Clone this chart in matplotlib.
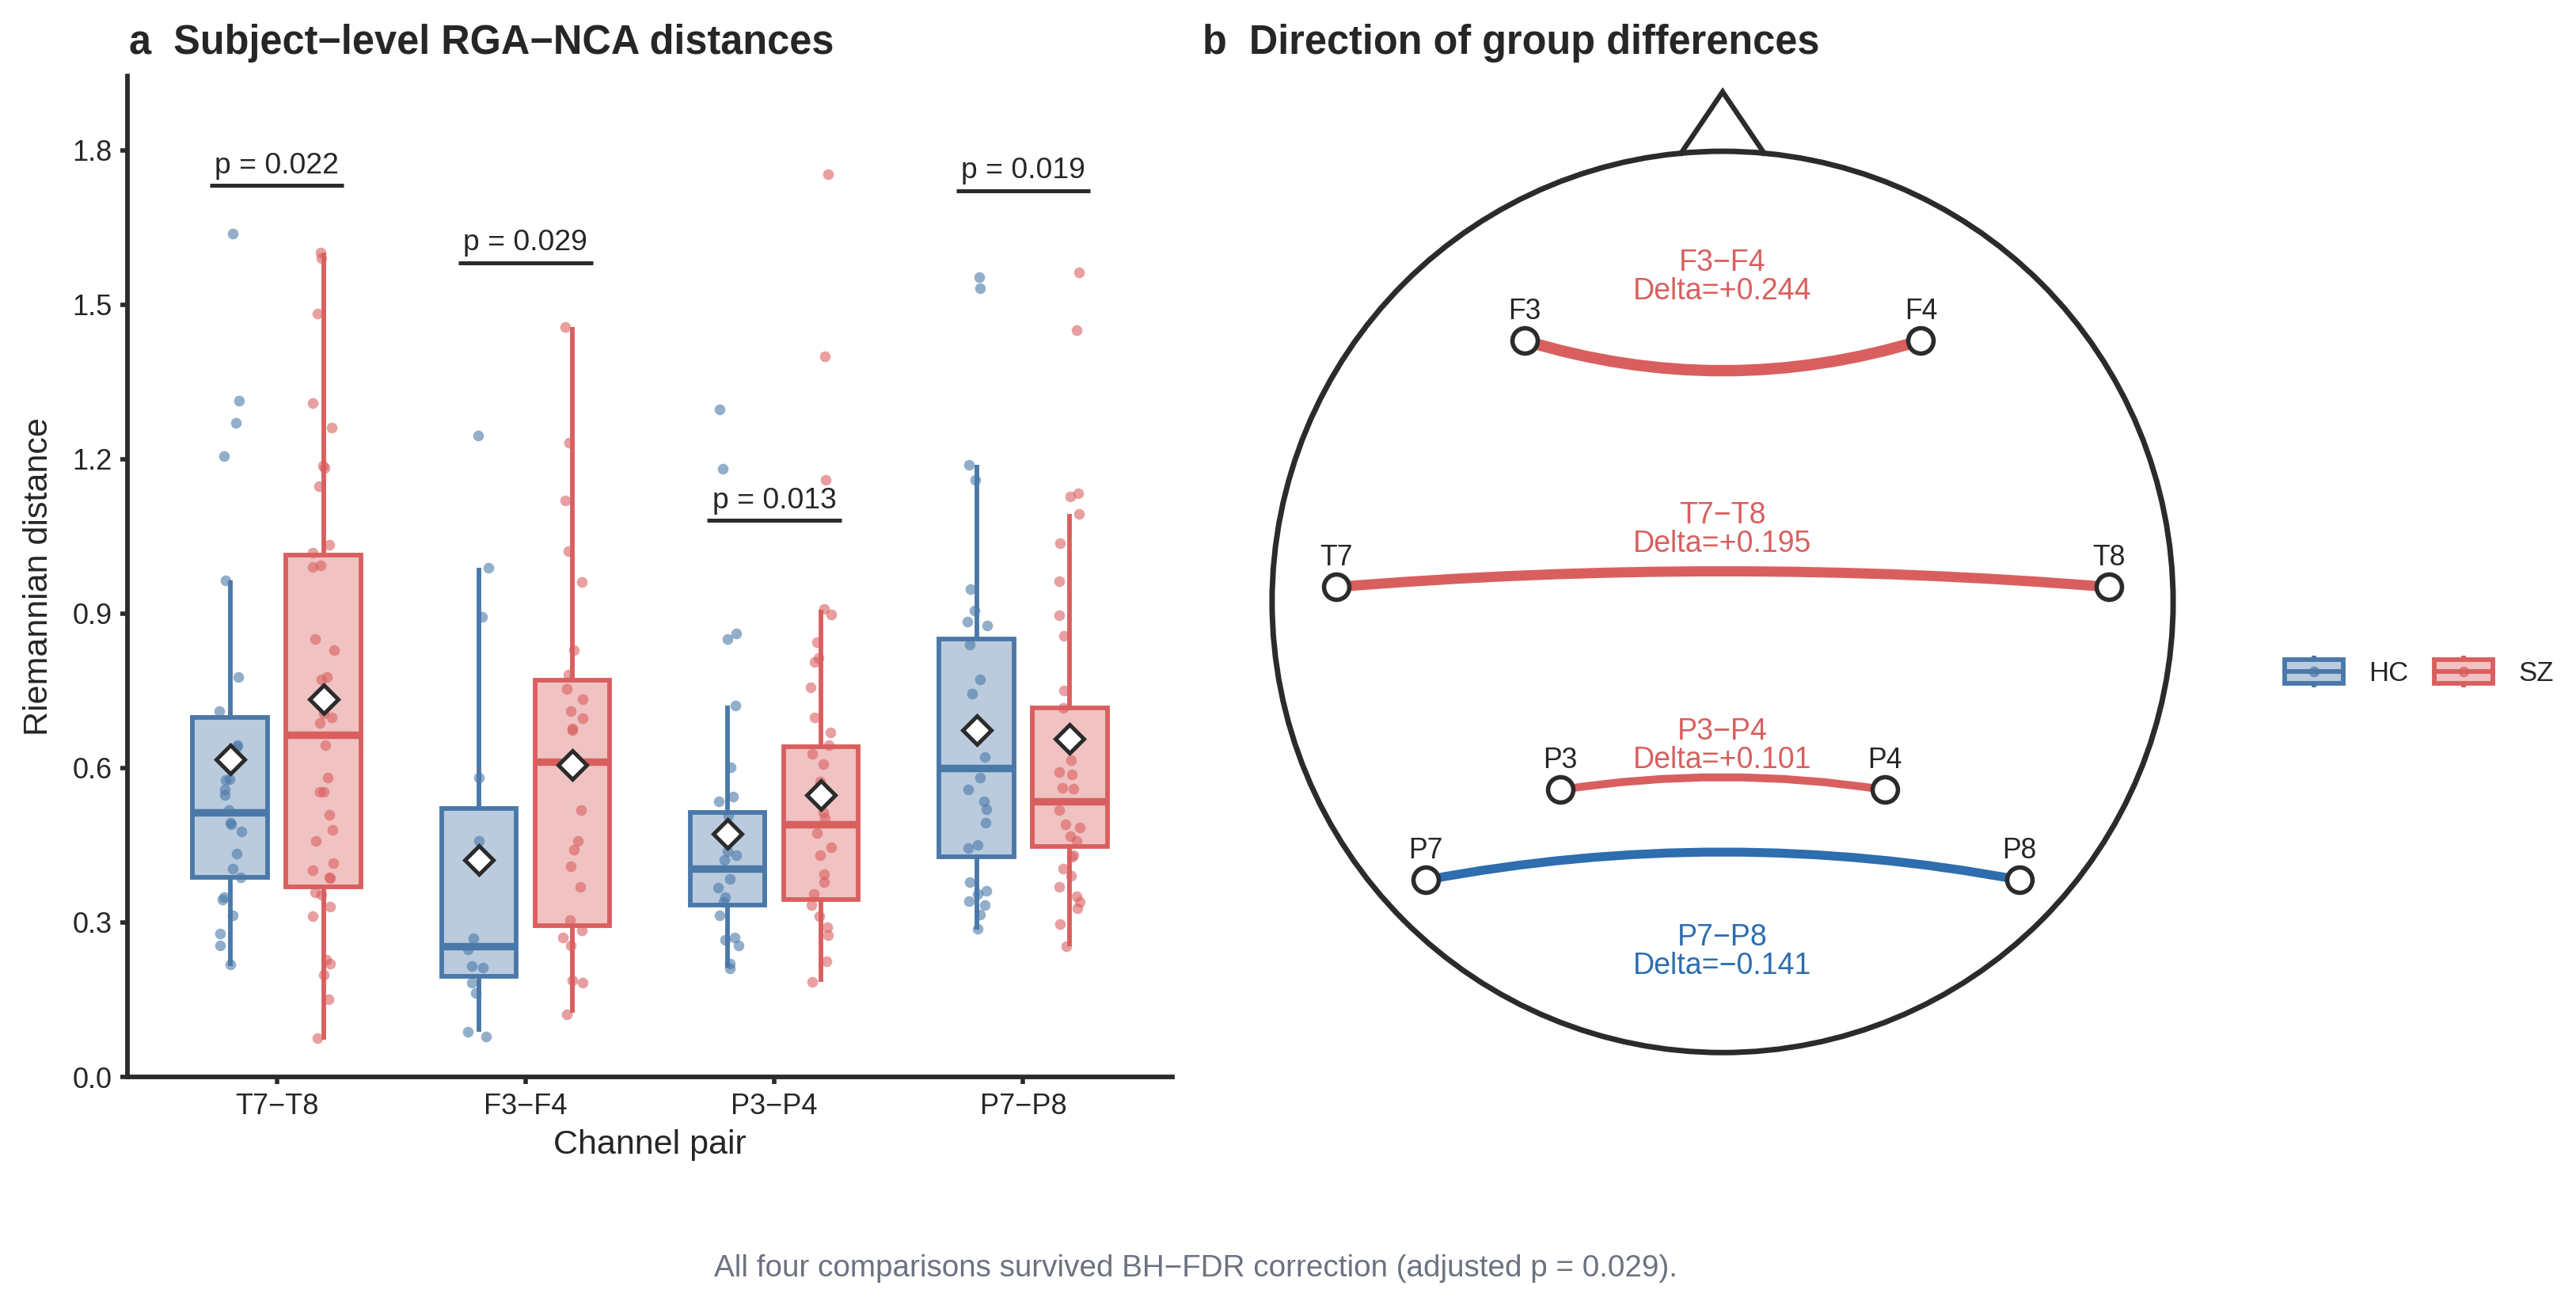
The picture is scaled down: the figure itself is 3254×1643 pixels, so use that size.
import numpy as np
import matplotlib
matplotlib.use("Agg")
import matplotlib.pyplot as plt
from matplotlib.patches import Circle, PathPatch, Rectangle, Patch
from matplotlib.path import Path
from matplotlib.lines import Line2D
from matplotlib.legend_handler import HandlerBase

plt.rcParams['font.family'] = ['Liberation Sans', 'DejaVu Sans']

# ---- data ----
pairs = ['T7−T8', 'F3−F4', 'P3−P4', 'P7−P8']
groups = ['HC', 'SZ']

hc_points = [
    [1.638, 1.314, 1.270, 1.206, 0.965, 0.777, 0.711, 0.645, 0.642, 0.578, 0.577, 0.558,
     0.548, 0.518, 0.494, 0.490, 0.477, 0.433, 0.404, 0.387, 0.349, 0.345, 0.314, 0.279,
     0.255, 0.218],
    [1.246, 0.989, 0.893, 0.582, 0.458, 0.269, 0.247, 0.216, 0.213, 0.183, 0.163, 0.088, 0.079],
    [1.296, 1.181, 0.861, 0.851, 0.722, 0.601, 0.544, 0.535, 0.507, 0.438, 0.430, 0.421,
     0.384, 0.367, 0.349, 0.340, 0.313, 0.270, 0.266, 0.255, 0.220, 0.210],
    [1.553, 1.532, 1.189, 1.160, 0.948, 0.906, 0.884, 0.876, 0.840, 0.772, 0.745, 0.621,
     0.582, 0.558, 0.535, 0.520, 0.494, 0.450, 0.445, 0.378, 0.361, 0.356, 0.341, 0.334,
     0.316, 0.288],
]
sz_points = [
    [1.601, 1.590, 1.482, 1.309, 1.261, 1.188, 1.182, 1.148, 1.033, 1.018, 0.993, 0.991,
     0.851, 0.829, 0.777, 0.772, 0.706, 0.699, 0.688, 0.645, 0.581, 0.553, 0.554, 0.509,
     0.480, 0.459, 0.415, 0.402, 0.387, 0.386, 0.358, 0.353, 0.330, 0.312, 0.227, 0.220,
     0.199, 0.150, 0.075],
    [1.457, 1.232, 1.120, 1.021, 0.961, 0.829, 0.781, 0.753, 0.734, 0.710, 0.697, 0.676,
     0.674, 0.518, 0.458, 0.441, 0.409, 0.369, 0.305, 0.284, 0.271, 0.256, 0.188, 0.183, 0.122],
    [1.753, 1.400, 1.160, 0.909, 0.898, 0.845, 0.814, 0.806, 0.757, 0.698, 0.669, 0.644,
     0.628, 0.608, 0.573, 0.514, 0.503, 0.474, 0.446, 0.430, 0.394, 0.378, 0.356, 0.334,
     0.312, 0.291, 0.275, 0.224, 0.185],
    [1.563, 1.450, 1.134, 1.127, 1.093, 1.036, 0.963, 0.897, 0.857, 0.750, 0.717, 0.615,
     0.592, 0.588, 0.562, 0.560, 0.519, 0.490, 0.485, 0.468, 0.458, 0.431, 0.427, 0.404,
     0.390, 0.369, 0.350, 0.340, 0.327, 0.297, 0.253],
]

# box summaries
hc_q1 = [0.388, 0.196, 0.334, 0.428]
hc_med = [0.514, 0.253, 0.404, 0.600]
hc_q3 = [0.698, 0.522, 0.514, 0.851]
hc_wlo = [0.216, 0.088, 0.213, 0.286]
hc_whi = [0.965, 0.989, 0.722, 1.189]
hc_mean = [0.617, 0.421, 0.472, 0.673]

sz_q1 = [0.369, 0.293, 0.345, 0.447]
sz_med = [0.665, 0.612, 0.490, 0.535]
sz_q3 = [1.013, 0.770, 0.642, 0.717]
sz_wlo = [0.073, 0.124, 0.185, 0.253]
sz_whi = [1.601, 1.457, 0.908, 1.093]
sz_mean = [0.734, 0.606, 0.548, 0.656]

p_labels = ['p = 0.022', 'p = 0.029', 'p = 0.013', 'p = 0.019']
p_heights = [1.731, 1.581, 1.081, 1.721]

# panel b: electrode layout (head radius = 1) and group differences
electrodes = ['F3', 'F4', 'T7', 'T8', 'P3', 'P4', 'P7', 'P8']
elec_x = [-0.44, 0.44, -0.858, 0.858, -0.36, 0.36, -0.659, 0.659]
elec_y = [0.58, 0.58, 0.033, 0.033, -0.417, -0.417, -0.617, -0.617]

edge_from = ['F3', 'T7', 'P3', 'P7']
edge_to = ['F4', 'T8', 'P4', 'P8']
edge_delta = [0.244, 0.195, 0.101, -0.141]
edge_bend = [-0.067, 0.035, 0.028, 0.062]
edge_label_y = [0.72, 0.16, -0.32, -0.777]

caption = "All four comparisons survived BH−FDR correction (adjusted p = 0.029)."

# ---- styles ----
HC_COL = '#4A78A8'
SZ_COL = '#D95F5F'
HC_FILL = '#BACBDE'
SZ_FILL = '#F0C2C2'
POS_COL = '#D95F5F'
NEG_COL = '#2E6DAE'
INK = '#2B2B2B'
TXT = '#262626'
W, H = 3255, 1643

fig = plt.figure(figsize=(W / 200, H / 200), dpi=200)

# ---- panel a ----
ax = fig.add_axes([161 / W, 1 - 1360 / H, 1320 / W, 1264 / H])
x = np.arange(1, len(pairs) + 1)
dodge = 0.1875
rng = np.random.default_rng(7)

for vals, q1, med, q3, wlo, whi, mn, off, ec, fc in [
        (hc_points, hc_q1, hc_med, hc_q3, hc_wlo, hc_whi, hc_mean, -dodge, HC_COL, HC_FILL),
        (sz_points, sz_q1, sz_med, sz_q3, sz_wlo, sz_whi, sz_mean, dodge, SZ_COL, SZ_FILL)]:
    stats = []
    for i in range(len(pairs)):
        stats.append(dict(q1=q1[i], med=med[i], q3=q3[i], whislo=wlo[i],
                          whishi=whi[i], mean=mn[i], fliers=[]))
    ax.bxp(stats, positions=x + off, widths=0.3, patch_artist=True,
           showmeans=True, showfliers=False, showcaps=False,
           boxprops=dict(facecolor=fc, edgecolor=ec, linewidth=2.1),
           whiskerprops=dict(color=ec, linewidth=2.1, solid_capstyle='butt'),
           medianprops=dict(color=ec, linewidth=3.4, solid_capstyle='butt'),
           meanprops=dict(marker='D', markersize=9.2, markerfacecolor='white',
                          markeredgecolor=INK, markeredgewidth=1.8, zorder=6))
    for i, v in enumerate(vals):
        jx = x[i] + off + rng.uniform(-0.045, 0.045, len(v))
        ax.scatter(jx, v, s=24, color=ec, alpha=0.6, linewidths=0, zorder=4)

for i, (lab, hy) in enumerate(zip(p_labels, p_heights)):
    ax.plot([x[i] - 0.27, x[i] + 0.27], [hy, hy], color=INK, lw=1.8,
            solid_capstyle='butt', zorder=5)
    ax.text(x[i], hy + 0.024, lab, ha='center', va='baseline', fontsize=13.4, color=TXT)

ax.set_xlim(0.4, 4.6)
ax.set_ylim(0, 1.944)
ax.set_xticks(x)
ax.set_xticklabels(pairs)
ax.set_yticks(np.arange(0, 1.81, 0.3))
ax.set_yticklabels([f'{t:.1f}' for t in np.arange(0, 1.81, 0.3)])
ax.spines['top'].set_visible(False)
ax.spines['right'].set_visible(False)
for s in ['left', 'bottom']:
    ax.spines[s].set_linewidth(2.1)
    ax.spines[s].set_color(INK)
ax.tick_params(length=3.1, width=2.0, color=INK, labelsize=13, labelcolor=TXT, pad=4)
ax.set_xlabel('Channel pair', fontsize=15.5, color=TXT, labelpad=4)
ax.set_ylabel('Riemannian distance', fontsize=15.5, color=TXT, labelpad=8)

# ---- panel b ----
bx = fig.add_axes([1550 / W, 1 - 1360 / H, 1252 / W, 1264 / H])
bx.set_xlim(-1.1, 1.1)
bx.set_ylim(-1.054, 1.167)
bx.axis('off')
bx.add_patch(Circle((0, 0), 1, fill=False, lw=2.5, ec=INK, clip_on=False))
bx.plot([-0.092, 0, 0.092], [0.996, 1.132, 0.996], color=INK, lw=2.3,
        solid_joinstyle='miter', clip_on=False)

pos = {n: (ex, ey) for n, ex, ey in zip(electrodes, elec_x, elec_y)}
for a, b, d, bend, ly in zip(edge_from, edge_to, edge_delta, edge_bend, edge_label_y):
    (x1, y1), (x2, y2) = pos[a], pos[b]
    ctrl = ((x1 + x2) / 2, (y1 + y2) / 2 + 2 * bend)
    col = POS_COL if d > 0 else NEG_COL
    path = Path([(x1, y1), ctrl, (x2, y2)], [Path.MOVETO, Path.CURVE3, Path.CURVE3])
    bx.add_patch(PathPatch(path, fill=False, ec=col, lw=2.5 + 11 * abs(d),
                           capstyle='butt', zorder=2))
    sign = '+' if d > 0 else '−'
    bx.text(0, ly, f'{a}−{b}\nDelta={sign}{abs(d):.3f}', ha='center', va='center',
            fontsize=13.5, color=col, linespacing=1.0, zorder=3)

bx.plot(elec_x, elec_y, 'o', ms=11.5, mfc='white', mec=INK, mew=2.0, ls='none', zorder=4)
for n, ex, ey in zip(electrodes, elec_x, elec_y):
    bx.text(ex, ey + 0.065, n, ha='center', va='center', fontsize=12.8, color=TXT, zorder=5)


# ---- legend with boxplot keys ----
class BoxKey(HandlerBase):
    def create_artists(self, legend, orig_handle, xdescent, ydescent, width, height,
                       fontsize, trans):
        ec = orig_handle.get_edgecolor()
        fc = orig_handle.get_facecolor()
        x0, y0 = -xdescent, -ydescent
        wl = Line2D([x0 + width / 2] * 2, [y0, y0 + height], color=ec, lw=2.1,
                    solid_capstyle='butt', transform=trans)
        box = Rectangle((x0, y0 + 0.125 * height), width, 0.75 * height, facecolor=fc,
                        edgecolor=ec, lw=2.1, transform=trans)
        md = Line2D([x0, x0 + width], [y0 + height / 2] * 2, color=ec, lw=2.1,
                    transform=trans)
        dot = Line2D([x0 + width / 2], [y0 + height / 2], marker='o', ms=4, color=ec,
                     alpha=0.6, ls='none', transform=trans)
        return [wl, box, md, dot]


handles = [Patch(facecolor=HC_FILL, edgecolor=HC_COL), Patch(facecolor=SZ_FILL, edgecolor=SZ_COL)]
fig.legend(handles, groups, loc='center left', bbox_to_anchor=(2886 / W, 1 - 848 / H),
           ncol=2, frameon=False, borderpad=0, borderaxespad=0, handlelength=2.13,
           handleheight=1.38, handletextpad=0.92, columnspacing=0.95, fontsize=12.5,
           labelcolor=TXT, handler_map={Patch: BoxKey()})

# ---- titles and caption ----
fig.text(163 / W, 1 - 68 / H, 'a  Subject−level RGA−NCA distances', fontsize=18.2,
         fontweight='bold', color=TXT, va='baseline')
fig.text(1519 / W, 1 - 68 / H, 'b  Direction of group differences', fontsize=18.2,
         fontweight='bold', color=TXT, va='baseline')
fig.text(1510 / W, 1 - 1602 / H, caption, fontsize=13.9, color='#6B7280',
         ha='center', va='center')

fig.savefig('out.png', dpi=200, facecolor='white')
